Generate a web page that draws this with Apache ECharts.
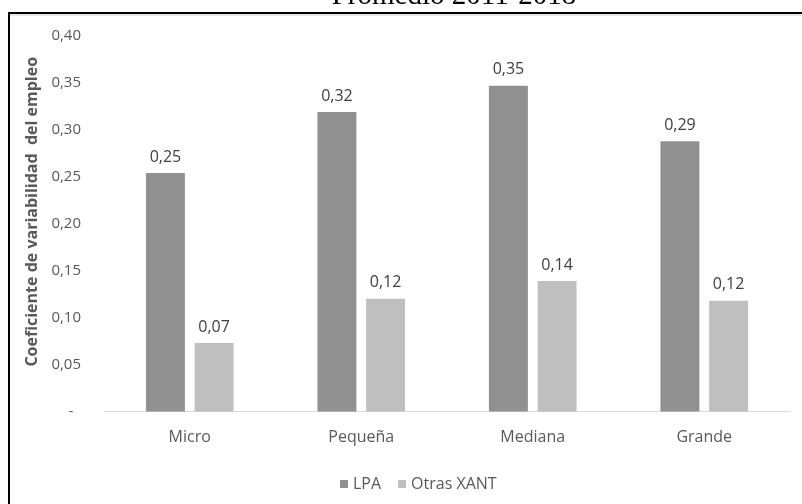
<!DOCTYPE html>
<html>
<head>
<meta charset="utf-8">
<script src="https://cdn.jsdelivr.net/npm/echarts@6/dist/echarts.min.js"></script>
<style>
  html, body { margin: 0; padding: 0; background: #fff; }
  #chart { width: 802px; height: 504px; }
</style>
</head>
<body>
<div id="chart"></div>
<script>
// Employment variability coefficient by company size
const categories = ['Micro', 'Pequeña', 'Mediana', 'Grande'];
const seriesNames = ['LPA', 'Otras XANT'];
const lpaValues = [0.254, 0.319, 0.347, 0.288];
const otrasValues = [0.073, 0.120, 0.139, 0.118];
const titleText = 'Promedio 2011-2018';
const yAxisTitle = 'Coeficiente de variabilidad  del empleo';

const fontFamily = '"Open Sans", "Noto Sans", sans-serif';
const fmt = v => v.toFixed(2).replace('.', ',');

const chart = echarts.init(document.getElementById('chart'), null, { renderer: 'canvas' });

const labelStyle = {
  show: true,
  position: 'top',
  distance: 8,
  color: '#404040',
  fontSize: 16,
  fontFamily: fontFamily,
  formatter: p => fmt(p.value)
};

chart.setOption({
  animation: false,
  backgroundColor: '#ffffff',
  graphic: [
    {
      type: 'line',
      shape: { x1: 10, y1: 15, x2: 802, y2: 15 },
      style: { stroke: '#d0d0d0', lineWidth: 1 },
      z: 9
    },
    {
      type: 'rect',
      shape: { x: 9, y: 13, width: 820, height: 520 },
      style: { fill: 'none', stroke: '#000000', lineWidth: 2 },
      z: 10
    },
    {
      type: 'text',
      x: 454,
      y: 11,
      style: {
        text: titleText,
        font: '29px "Liberation Serif", serif',
        fill: '#000000',
        textAlign: 'center',
        textVerticalAlign: 'bottom'
      }
    }
  ],
  grid: { left: 104, right: 12, top: 36, bottom: 92.5 },
  legend: {
    data: seriesNames,
    left: 335,
    top: 471,
    icon: 'rect',
    itemWidth: 8,
    itemHeight: 8,
    itemGap: 17,
    textStyle: { color: '#595959', fontSize: 16, fontFamily: fontFamily }
  },
  xAxis: {
    type: 'category',
    data: categories,
    axisLine: { lineStyle: { color: '#d9d9d9', width: 1 } },
    axisTick: { show: false },
    axisLabel: { color: '#595959', fontSize: 16, fontFamily: fontFamily, margin: 18 }
  },
  yAxis: {
    type: 'value',
    min: 0,
    max: 0.4,
    interval: 0.05,
    name: yAxisTitle,
    nameLocation: 'middle',
    nameGap: 62,
    nameTextStyle: { color: '#595959', fontSize: 16, fontWeight: 'bold', fontFamily: fontFamily, padding: [0, 0, 0, 24] },
    axisLine: { show: false },
    axisTick: { show: false },
    splitLine: { show: false },
    axisLabel: {
      color: '#595959',
      fontSize: 15,
      fontFamily: fontFamily,
      margin: 23,
      formatter: v => (v === 0 ? '-  ' : fmt(v))
    }
  },
  series: [
    {
      name: seriesNames[0],
      type: 'bar',
      data: lpaValues,
      barWidth: '22.7%',
      barGap: '25%',
      itemStyle: { color: '#909090' },
      label: labelStyle
    },
    {
      name: seriesNames[1],
      type: 'bar',
      data: otrasValues,
      barWidth: '22.7%',
      itemStyle: { color: '#bfbfbf' },
      label: labelStyle
    }
  ]
});
</script>
</body>
</html>
